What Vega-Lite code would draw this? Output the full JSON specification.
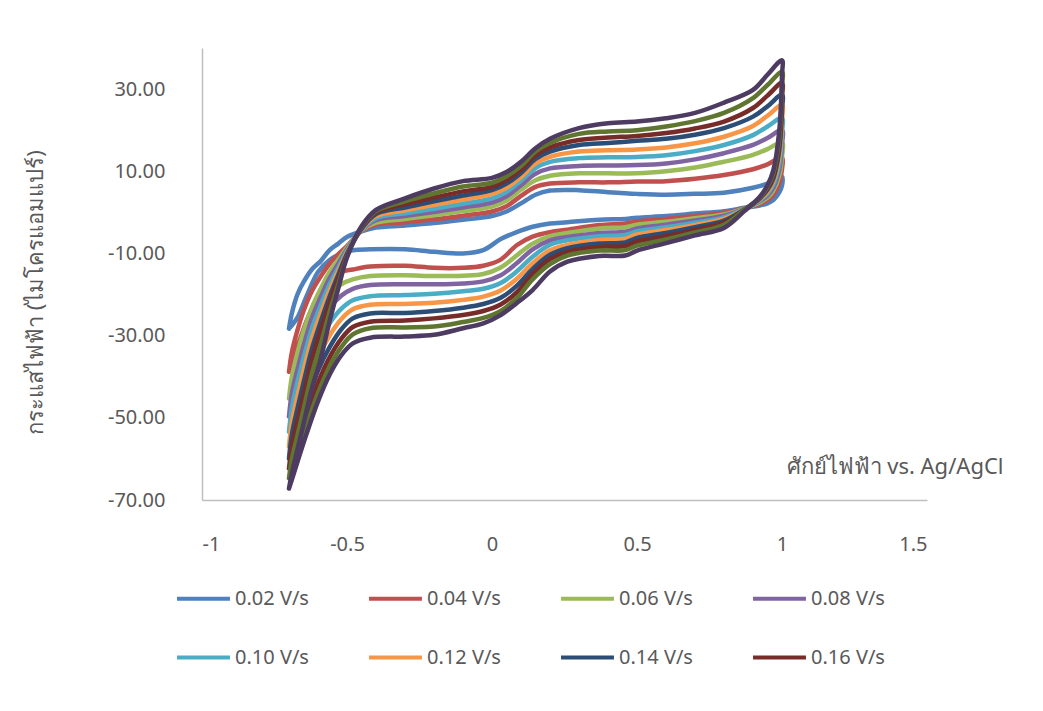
{
  "$schema": "https://vega.github.io/schema/vega-lite/v6.json",
  "width": 725,
  "height": 452,
  "autosize": {"type": "none"},
  "padding": {"left": 202, "top": 48, "right": 116, "bottom": 211},
  "background": "white",
  "config": {
    "view": {"stroke": null},
    "font": "Noto Sans",
    "locale": {"number": {"decimal": ".", "thousands": ",", "grouping": [3], "currency": ["$", ""], "minus": "-"}}
  },
  "datasets": {
    "cv": [
      {"rate":"0.02 V/s","E":-0.7,"I":-28.3},{"rate":"0.02 V/s","E":-0.69,"I":-24.5},{"rate":"0.02 V/s","E":-0.67,"I":-19.8},{"rate":"0.02 V/s","E":-0.65,"I":-17.0},{"rate":"0.02 V/s","E":-0.62,"I":-13.8},{"rate":"0.02 V/s","E":-0.59,"I":-11.8},{"rate":"0.02 V/s","E":-0.56,"I":-9.2},{"rate":"0.02 V/s","E":-0.53,"I":-7.6},{"rate":"0.02 V/s","E":-0.5,"I":-6.0},{"rate":"0.02 V/s","E":-0.45,"I":-4.6},{"rate":"0.02 V/s","E":-0.4,"I":-3.7},{"rate":"0.02 V/s","E":-0.3,"I":-3.2},{"rate":"0.02 V/s","E":-0.2,"I":-2.6},{"rate":"0.02 V/s","E":-0.1,"I":-1.8},{"rate":"0.02 V/s","E":0.0,"I":-0.9},{"rate":"0.02 V/s","E":0.05,"I":0.2},{"rate":"0.02 V/s","E":0.1,"I":2.2},{"rate":"0.02 V/s","E":0.15,"I":4.3},{"rate":"0.02 V/s","E":0.2,"I":5.3},{"rate":"0.02 V/s","E":0.3,"I":5.4},{"rate":"0.02 V/s","E":0.4,"I":4.9},{"rate":"0.02 V/s","E":0.5,"I":4.5},{"rate":"0.02 V/s","E":0.6,"I":4.3},{"rate":"0.02 V/s","E":0.7,"I":4.5},{"rate":"0.02 V/s","E":0.8,"I":4.8},{"rate":"0.02 V/s","E":0.9,"I":6.0},{"rate":"0.02 V/s","E":0.95,"I":7.0},{"rate":"0.02 V/s","E":1.0,"I":8.7},
      {"rate":"0.02 V/s","E":1.0,"I":6.5},{"rate":"0.02 V/s","E":0.99,"I":4.8},{"rate":"0.02 V/s","E":0.97,"I":3.0},{"rate":"0.02 V/s","E":0.95,"I":2.2},{"rate":"0.02 V/s","E":0.92,"I":1.6},{"rate":"0.02 V/s","E":0.87,"I":1.1},{"rate":"0.02 V/s","E":0.8,"I":0.3},{"rate":"0.02 V/s","E":0.7,"I":-0.3},{"rate":"0.02 V/s","E":0.6,"I":-0.9},{"rate":"0.02 V/s","E":0.5,"I":-1.3},{"rate":"0.02 V/s","E":0.46,"I":-1.6},{"rate":"0.02 V/s","E":0.37,"I":-1.8},{"rate":"0.02 V/s","E":0.26,"I":-2.4},{"rate":"0.02 V/s","E":0.2,"I":-2.7},{"rate":"0.02 V/s","E":0.14,"I":-3.5},{"rate":"0.02 V/s","E":0.085,"I":-4.8},{"rate":"0.02 V/s","E":0.03,"I":-6.5},{"rate":"0.02 V/s","E":-0.03,"I":-9.2},{"rate":"0.02 V/s","E":-0.1,"I":-10.0},{"rate":"0.02 V/s","E":-0.2,"I":-9.6},{"rate":"0.02 V/s","E":-0.3,"I":-9.0},{"rate":"0.02 V/s","E":-0.42,"I":-9.0},{"rate":"0.02 V/s","E":-0.48,"I":-9.2},{"rate":"0.02 V/s","E":-0.52,"I":-10.0},{"rate":"0.02 V/s","E":-0.56,"I":-11.6},{"rate":"0.02 V/s","E":-0.6,"I":-14.5},{"rate":"0.02 V/s","E":-0.64,"I":-20.5},{"rate":"0.02 V/s","E":-0.67,"I":-25.5},{"rate":"0.02 V/s","E":-0.69,"I":-27.5},{"rate":"0.02 V/s","E":-0.7,"I":-28.3},

      {"rate":"0.04 V/s","E":-0.7,"I":-38.8},{"rate":"0.04 V/s","E":-0.69,"I":-34.0},{"rate":"0.04 V/s","E":-0.67,"I":-28.5},{"rate":"0.04 V/s","E":-0.65,"I":-24.0},{"rate":"0.04 V/s","E":-0.62,"I":-19.0},{"rate":"0.04 V/s","E":-0.59,"I":-15.5},{"rate":"0.04 V/s","E":-0.56,"I":-12.5},{"rate":"0.04 V/s","E":-0.53,"I":-10.2},{"rate":"0.04 V/s","E":-0.5,"I":-8.2},{"rate":"0.04 V/s","E":-0.45,"I":-4.5},{"rate":"0.04 V/s","E":-0.4,"I":-3.0},{"rate":"0.04 V/s","E":-0.3,"I":-2.4},{"rate":"0.04 V/s","E":-0.2,"I":-1.7},{"rate":"0.04 V/s","E":-0.1,"I":-0.8},{"rate":"0.04 V/s","E":0.0,"I":0.2},{"rate":"0.04 V/s","E":0.05,"I":1.5},{"rate":"0.04 V/s","E":0.1,"I":4.0},{"rate":"0.04 V/s","E":0.15,"I":6.2},{"rate":"0.04 V/s","E":0.2,"I":7.0},{"rate":"0.04 V/s","E":0.3,"I":7.3},{"rate":"0.04 V/s","E":0.4,"I":7.3},{"rate":"0.04 V/s","E":0.5,"I":7.5},{"rate":"0.04 V/s","E":0.6,"I":7.6},{"rate":"0.04 V/s","E":0.7,"I":8.2},{"rate":"0.04 V/s","E":0.8,"I":9.1},{"rate":"0.04 V/s","E":0.9,"I":10.5},{"rate":"0.04 V/s","E":0.95,"I":11.7},{"rate":"0.04 V/s","E":1.0,"I":13.3},
      {"rate":"0.04 V/s","E":1.0,"I":10.5},{"rate":"0.04 V/s","E":0.99,"I":7.0},{"rate":"0.04 V/s","E":0.97,"I":4.3},{"rate":"0.04 V/s","E":0.95,"I":3.0},{"rate":"0.04 V/s","E":0.92,"I":2.0},{"rate":"0.04 V/s","E":0.87,"I":1.0},{"rate":"0.04 V/s","E":0.8,"I":-0.1},{"rate":"0.04 V/s","E":0.7,"I":-0.9},{"rate":"0.04 V/s","E":0.6,"I":-1.6},{"rate":"0.04 V/s","E":0.5,"I":-2.2},{"rate":"0.04 V/s","E":0.46,"I":-2.7},{"rate":"0.04 V/s","E":0.37,"I":-3.1},{"rate":"0.04 V/s","E":0.26,"I":-4.2},{"rate":"0.04 V/s","E":0.2,"I":-4.8},{"rate":"0.04 V/s","E":0.14,"I":-5.9},{"rate":"0.04 V/s","E":0.085,"I":-8.0},{"rate":"0.04 V/s","E":0.03,"I":-11.5},{"rate":"0.04 V/s","E":-0.03,"I":-13.0},{"rate":"0.04 V/s","E":-0.1,"I":-13.5},{"rate":"0.04 V/s","E":-0.2,"I":-13.5},{"rate":"0.04 V/s","E":-0.3,"I":-13.0},{"rate":"0.04 V/s","E":-0.42,"I":-13.2},{"rate":"0.04 V/s","E":-0.48,"I":-13.9},{"rate":"0.04 V/s","E":-0.52,"I":-14.5},{"rate":"0.04 V/s","E":-0.56,"I":-16.5},{"rate":"0.04 V/s","E":-0.6,"I":-20.5},{"rate":"0.04 V/s","E":-0.64,"I":-26.5},{"rate":"0.04 V/s","E":-0.67,"I":-32.5},{"rate":"0.04 V/s","E":-0.69,"I":-36.5},{"rate":"0.04 V/s","E":-0.7,"I":-38.8},

      {"rate":"0.06 V/s","E":-0.7,"I":-45.3},{"rate":"0.06 V/s","E":-0.69,"I":-40.0},{"rate":"0.06 V/s","E":-0.67,"I":-34.0},{"rate":"0.06 V/s","E":-0.65,"I":-29.0},{"rate":"0.06 V/s","E":-0.62,"I":-23.0},{"rate":"0.06 V/s","E":-0.59,"I":-18.5},{"rate":"0.06 V/s","E":-0.56,"I":-14.5},{"rate":"0.06 V/s","E":-0.53,"I":-11.5},{"rate":"0.06 V/s","E":-0.5,"I":-8.6},{"rate":"0.06 V/s","E":-0.45,"I":-4.4},{"rate":"0.06 V/s","E":-0.4,"I":-2.5},{"rate":"0.06 V/s","E":-0.3,"I":-1.6},{"rate":"0.06 V/s","E":-0.2,"I":-0.7},{"rate":"0.06 V/s","E":-0.1,"I":0.3},{"rate":"0.06 V/s","E":0.0,"I":1.4},{"rate":"0.06 V/s","E":0.05,"I":2.9},{"rate":"0.06 V/s","E":0.1,"I":5.5},{"rate":"0.06 V/s","E":0.15,"I":7.8},{"rate":"0.06 V/s","E":0.2,"I":8.9},{"rate":"0.06 V/s","E":0.3,"I":9.5},{"rate":"0.06 V/s","E":0.4,"I":9.5},{"rate":"0.06 V/s","E":0.5,"I":9.5},{"rate":"0.06 V/s","E":0.6,"I":10.0},{"rate":"0.06 V/s","E":0.7,"I":10.9},{"rate":"0.06 V/s","E":0.8,"I":12.3},{"rate":"0.06 V/s","E":0.9,"I":14.0},{"rate":"0.06 V/s","E":0.95,"I":15.4},{"rate":"0.06 V/s","E":1.0,"I":17.0},
      {"rate":"0.06 V/s","E":1.0,"I":13.5},{"rate":"0.06 V/s","E":0.99,"I":8.8},{"rate":"0.06 V/s","E":0.97,"I":5.3},{"rate":"0.06 V/s","E":0.95,"I":3.6},{"rate":"0.06 V/s","E":0.92,"I":2.3},{"rate":"0.06 V/s","E":0.87,"I":0.9},{"rate":"0.06 V/s","E":0.8,"I":-0.5},{"rate":"0.06 V/s","E":0.7,"I":-1.4},{"rate":"0.06 V/s","E":0.6,"I":-2.3},{"rate":"0.06 V/s","E":0.5,"I":-3.0},{"rate":"0.06 V/s","E":0.46,"I":-3.6},{"rate":"0.06 V/s","E":0.37,"I":-3.9},{"rate":"0.06 V/s","E":0.26,"I":-5.0},{"rate":"0.06 V/s","E":0.2,"I":-5.8},{"rate":"0.06 V/s","E":0.14,"I":-7.6},{"rate":"0.06 V/s","E":0.085,"I":-10.5},{"rate":"0.06 V/s","E":0.03,"I":-13.4},{"rate":"0.06 V/s","E":-0.03,"I":-15.0},{"rate":"0.06 V/s","E":-0.1,"I":-15.4},{"rate":"0.06 V/s","E":-0.2,"I":-15.5},{"rate":"0.06 V/s","E":-0.3,"I":-15.3},{"rate":"0.06 V/s","E":-0.42,"I":-15.5},{"rate":"0.06 V/s","E":-0.48,"I":-16.3},{"rate":"0.06 V/s","E":-0.52,"I":-17.5},{"rate":"0.06 V/s","E":-0.56,"I":-20.0},{"rate":"0.06 V/s","E":-0.6,"I":-24.5},{"rate":"0.06 V/s","E":-0.64,"I":-31.5},{"rate":"0.06 V/s","E":-0.67,"I":-38.5},{"rate":"0.06 V/s","E":-0.69,"I":-43.0},{"rate":"0.06 V/s","E":-0.7,"I":-45.3},

      {"rate":"0.08 V/s","E":-0.7,"I":-49.7},{"rate":"0.08 V/s","E":-0.69,"I":-44.0},{"rate":"0.08 V/s","E":-0.67,"I":-38.0},{"rate":"0.08 V/s","E":-0.65,"I":-32.5},{"rate":"0.08 V/s","E":-0.62,"I":-25.5},{"rate":"0.08 V/s","E":-0.59,"I":-20.5},{"rate":"0.08 V/s","E":-0.56,"I":-16.0},{"rate":"0.08 V/s","E":-0.53,"I":-12.5},{"rate":"0.08 V/s","E":-0.5,"I":-9.0},{"rate":"0.08 V/s","E":-0.45,"I":-4.3},{"rate":"0.08 V/s","E":-0.4,"I":-1.9},{"rate":"0.08 V/s","E":-0.3,"I":-0.9},{"rate":"0.08 V/s","E":-0.2,"I":0.1},{"rate":"0.08 V/s","E":-0.1,"I":1.2},{"rate":"0.08 V/s","E":0.0,"I":2.4},{"rate":"0.08 V/s","E":0.05,"I":3.9},{"rate":"0.08 V/s","E":0.1,"I":6.6},{"rate":"0.08 V/s","E":0.15,"I":9.4},{"rate":"0.08 V/s","E":0.2,"I":10.7},{"rate":"0.08 V/s","E":0.3,"I":11.3},{"rate":"0.08 V/s","E":0.4,"I":11.4},{"rate":"0.08 V/s","E":0.5,"I":11.5},{"rate":"0.08 V/s","E":0.6,"I":11.9},{"rate":"0.08 V/s","E":0.7,"I":12.9},{"rate":"0.08 V/s","E":0.8,"I":14.4},{"rate":"0.08 V/s","E":0.9,"I":16.4},{"rate":"0.08 V/s","E":0.95,"I":18.1},{"rate":"0.08 V/s","E":1.0,"I":20.0},
      {"rate":"0.08 V/s","E":1.0,"I":16.5},{"rate":"0.08 V/s","E":0.99,"I":10.2},{"rate":"0.08 V/s","E":0.97,"I":6.0},{"rate":"0.08 V/s","E":0.95,"I":4.1},{"rate":"0.08 V/s","E":0.92,"I":2.6},{"rate":"0.08 V/s","E":0.87,"I":0.8},{"rate":"0.08 V/s","E":0.8,"I":-0.8},{"rate":"0.08 V/s","E":0.7,"I":-2.0},{"rate":"0.08 V/s","E":0.6,"I":-3.0},{"rate":"0.08 V/s","E":0.5,"I":-3.9},{"rate":"0.08 V/s","E":0.46,"I":-4.7},{"rate":"0.08 V/s","E":0.37,"I":-5.0},{"rate":"0.08 V/s","E":0.26,"I":-6.0},{"rate":"0.08 V/s","E":0.2,"I":-6.8},{"rate":"0.08 V/s","E":0.14,"I":-9.0},{"rate":"0.08 V/s","E":0.085,"I":-12.4},{"rate":"0.08 V/s","E":0.03,"I":-15.3},{"rate":"0.08 V/s","E":-0.03,"I":-16.8},{"rate":"0.08 V/s","E":-0.1,"I":-17.3},{"rate":"0.08 V/s","E":-0.2,"I":-17.5},{"rate":"0.08 V/s","E":-0.3,"I":-17.5},{"rate":"0.08 V/s","E":-0.42,"I":-17.7},{"rate":"0.08 V/s","E":-0.48,"I":-18.6},{"rate":"0.08 V/s","E":-0.52,"I":-20.3},{"rate":"0.08 V/s","E":-0.56,"I":-23.3},{"rate":"0.08 V/s","E":-0.6,"I":-28.0},{"rate":"0.08 V/s","E":-0.64,"I":-35.5},{"rate":"0.08 V/s","E":-0.67,"I":-42.5},{"rate":"0.08 V/s","E":-0.69,"I":-47.5},{"rate":"0.08 V/s","E":-0.7,"I":-49.7},

      {"rate":"0.10 V/s","E":-0.7,"I":-53.4},{"rate":"0.10 V/s","E":-0.69,"I":-47.5},{"rate":"0.10 V/s","E":-0.67,"I":-41.0},{"rate":"0.10 V/s","E":-0.65,"I":-35.5},{"rate":"0.10 V/s","E":-0.62,"I":-28.0},{"rate":"0.10 V/s","E":-0.59,"I":-22.5},{"rate":"0.10 V/s","E":-0.56,"I":-17.5},{"rate":"0.10 V/s","E":-0.53,"I":-13.5},{"rate":"0.10 V/s","E":-0.5,"I":-9.4},{"rate":"0.10 V/s","E":-0.45,"I":-4.2},{"rate":"0.10 V/s","E":-0.4,"I":-1.4},{"rate":"0.10 V/s","E":-0.3,"I":-0.2},{"rate":"0.10 V/s","E":-0.2,"I":0.9},{"rate":"0.10 V/s","E":-0.1,"I":2.1},{"rate":"0.10 V/s","E":0.0,"I":3.4},{"rate":"0.10 V/s","E":0.05,"I":5.0},{"rate":"0.10 V/s","E":0.1,"I":7.7},{"rate":"0.10 V/s","E":0.15,"I":10.8},{"rate":"0.10 V/s","E":0.2,"I":12.3},{"rate":"0.10 V/s","E":0.3,"I":13.2},{"rate":"0.10 V/s","E":0.4,"I":13.4},{"rate":"0.10 V/s","E":0.5,"I":13.5},{"rate":"0.10 V/s","E":0.6,"I":13.9},{"rate":"0.10 V/s","E":0.7,"I":14.9},{"rate":"0.10 V/s","E":0.8,"I":16.4},{"rate":"0.10 V/s","E":0.9,"I":18.8},{"rate":"0.10 V/s","E":0.95,"I":20.9},{"rate":"0.10 V/s","E":1.0,"I":23.0},
      {"rate":"0.10 V/s","E":1.0,"I":19.5},{"rate":"0.10 V/s","E":0.99,"I":11.8},{"rate":"0.10 V/s","E":0.97,"I":6.8},{"rate":"0.10 V/s","E":0.95,"I":4.6},{"rate":"0.10 V/s","E":0.92,"I":2.8},{"rate":"0.10 V/s","E":0.87,"I":0.8},{"rate":"0.10 V/s","E":0.8,"I":-1.2},{"rate":"0.10 V/s","E":0.7,"I":-2.5},{"rate":"0.10 V/s","E":0.6,"I":-3.6},{"rate":"0.10 V/s","E":0.5,"I":-4.6},{"rate":"0.10 V/s","E":0.46,"I":-5.5},{"rate":"0.10 V/s","E":0.37,"I":-5.8},{"rate":"0.10 V/s","E":0.26,"I":-6.8},{"rate":"0.10 V/s","E":0.2,"I":-7.9},{"rate":"0.10 V/s","E":0.14,"I":-10.8},{"rate":"0.10 V/s","E":0.085,"I":-14.4},{"rate":"0.10 V/s","E":0.03,"I":-17.2},{"rate":"0.10 V/s","E":-0.03,"I":-18.6},{"rate":"0.10 V/s","E":-0.1,"I":-19.2},{"rate":"0.10 V/s","E":-0.2,"I":-19.8},{"rate":"0.10 V/s","E":-0.3,"I":-20.1},{"rate":"0.10 V/s","E":-0.42,"I":-20.4},{"rate":"0.10 V/s","E":-0.48,"I":-21.4},{"rate":"0.10 V/s","E":-0.52,"I":-23.5},{"rate":"0.10 V/s","E":-0.56,"I":-27.0},{"rate":"0.10 V/s","E":-0.6,"I":-32.0},{"rate":"0.10 V/s","E":-0.64,"I":-39.5},{"rate":"0.10 V/s","E":-0.67,"I":-46.5},{"rate":"0.10 V/s","E":-0.69,"I":-51.0},{"rate":"0.10 V/s","E":-0.7,"I":-53.4},

      {"rate":"0.12 V/s","E":-0.7,"I":-57.0},{"rate":"0.12 V/s","E":-0.69,"I":-51.0},{"rate":"0.12 V/s","E":-0.67,"I":-44.5},{"rate":"0.12 V/s","E":-0.65,"I":-38.5},{"rate":"0.12 V/s","E":-0.62,"I":-30.5},{"rate":"0.12 V/s","E":-0.59,"I":-24.5},{"rate":"0.12 V/s","E":-0.56,"I":-19.0},{"rate":"0.12 V/s","E":-0.53,"I":-14.3},{"rate":"0.12 V/s","E":-0.5,"I":-9.8},{"rate":"0.12 V/s","E":-0.45,"I":-4.1},{"rate":"0.12 V/s","E":-0.4,"I":-0.9},{"rate":"0.12 V/s","E":-0.3,"I":0.5},{"rate":"0.12 V/s","E":-0.2,"I":1.8},{"rate":"0.12 V/s","E":-0.1,"I":3.1},{"rate":"0.12 V/s","E":0.0,"I":4.5},{"rate":"0.12 V/s","E":0.05,"I":6.0},{"rate":"0.12 V/s","E":0.1,"I":8.6},{"rate":"0.12 V/s","E":0.15,"I":11.9},{"rate":"0.12 V/s","E":0.2,"I":13.5},{"rate":"0.12 V/s","E":0.3,"I":14.8},{"rate":"0.12 V/s","E":0.4,"I":15.1},{"rate":"0.12 V/s","E":0.5,"I":15.3},{"rate":"0.12 V/s","E":0.6,"I":15.8},{"rate":"0.12 V/s","E":0.7,"I":16.8},{"rate":"0.12 V/s","E":0.8,"I":18.4},{"rate":"0.12 V/s","E":0.9,"I":21.0},{"rate":"0.12 V/s","E":0.95,"I":23.5},{"rate":"0.12 V/s","E":1.0,"I":26.1},
      {"rate":"0.12 V/s","E":1.0,"I":22.5},{"rate":"0.12 V/s","E":0.99,"I":13.3},{"rate":"0.12 V/s","E":0.97,"I":7.5},{"rate":"0.12 V/s","E":0.95,"I":5.0},{"rate":"0.12 V/s","E":0.92,"I":3.0},{"rate":"0.12 V/s","E":0.87,"I":0.7},{"rate":"0.12 V/s","E":0.8,"I":-1.6},{"rate":"0.12 V/s","E":0.7,"I":-3.1},{"rate":"0.12 V/s","E":0.6,"I":-4.3},{"rate":"0.12 V/s","E":0.5,"I":-5.4},{"rate":"0.12 V/s","E":0.46,"I":-6.4},{"rate":"0.12 V/s","E":0.37,"I":-6.7},{"rate":"0.12 V/s","E":0.26,"I":-7.9},{"rate":"0.12 V/s","E":0.2,"I":-9.2},{"rate":"0.12 V/s","E":0.14,"I":-12.4},{"rate":"0.12 V/s","E":0.085,"I":-16.2},{"rate":"0.12 V/s","E":0.03,"I":-19.0},{"rate":"0.12 V/s","E":-0.03,"I":-20.5},{"rate":"0.12 V/s","E":-0.1,"I":-21.3},{"rate":"0.12 V/s","E":-0.2,"I":-22.0},{"rate":"0.12 V/s","E":-0.3,"I":-22.3},{"rate":"0.12 V/s","E":-0.42,"I":-22.5},{"rate":"0.12 V/s","E":-0.48,"I":-23.6},{"rate":"0.12 V/s","E":-0.52,"I":-26.0},{"rate":"0.12 V/s","E":-0.56,"I":-30.0},{"rate":"0.12 V/s","E":-0.6,"I":-35.5},{"rate":"0.12 V/s","E":-0.64,"I":-43.0},{"rate":"0.12 V/s","E":-0.67,"I":-50.0},{"rate":"0.12 V/s","E":-0.69,"I":-54.5},{"rate":"0.12 V/s","E":-0.7,"I":-57.0},

      {"rate":"0.14 V/s","E":-0.7,"I":-59.9},{"rate":"0.14 V/s","E":-0.69,"I":-54.0},{"rate":"0.14 V/s","E":-0.67,"I":-47.5},{"rate":"0.14 V/s","E":-0.65,"I":-41.5},{"rate":"0.14 V/s","E":-0.62,"I":-33.0},{"rate":"0.14 V/s","E":-0.59,"I":-26.5},{"rate":"0.14 V/s","E":-0.56,"I":-20.5},{"rate":"0.14 V/s","E":-0.53,"I":-15.2},{"rate":"0.14 V/s","E":-0.5,"I":-10.1},{"rate":"0.14 V/s","E":-0.45,"I":-4.0},{"rate":"0.14 V/s","E":-0.4,"I":-0.4},{"rate":"0.14 V/s","E":-0.3,"I":1.2},{"rate":"0.14 V/s","E":-0.2,"I":2.7},{"rate":"0.14 V/s","E":-0.1,"I":4.1},{"rate":"0.14 V/s","E":0.0,"I":5.4},{"rate":"0.14 V/s","E":0.05,"I":7.0},{"rate":"0.14 V/s","E":0.1,"I":9.6},{"rate":"0.14 V/s","E":0.15,"I":13.0},{"rate":"0.14 V/s","E":0.2,"I":14.8},{"rate":"0.14 V/s","E":0.3,"I":16.4},{"rate":"0.14 V/s","E":0.4,"I":16.9},{"rate":"0.14 V/s","E":0.5,"I":17.4},{"rate":"0.14 V/s","E":0.6,"I":17.9},{"rate":"0.14 V/s","E":0.7,"I":18.9},{"rate":"0.14 V/s","E":0.8,"I":20.5},{"rate":"0.14 V/s","E":0.9,"I":23.3},{"rate":"0.14 V/s","E":0.95,"I":25.8},{"rate":"0.14 V/s","E":1.0,"I":28.6},
      {"rate":"0.14 V/s","E":1.0,"I":25.0},{"rate":"0.14 V/s","E":0.99,"I":14.8},{"rate":"0.14 V/s","E":0.97,"I":8.2},{"rate":"0.14 V/s","E":0.95,"I":5.5},{"rate":"0.14 V/s","E":0.92,"I":3.2},{"rate":"0.14 V/s","E":0.87,"I":0.7},{"rate":"0.14 V/s","E":0.8,"I":-2.0},{"rate":"0.14 V/s","E":0.7,"I":-3.6},{"rate":"0.14 V/s","E":0.6,"I":-5.0},{"rate":"0.14 V/s","E":0.5,"I":-6.2},{"rate":"0.14 V/s","E":0.46,"I":-7.3},{"rate":"0.14 V/s","E":0.37,"I":-7.6},{"rate":"0.14 V/s","E":0.26,"I":-8.7},{"rate":"0.14 V/s","E":0.2,"I":-10.3},{"rate":"0.14 V/s","E":0.14,"I":-13.8},{"rate":"0.14 V/s","E":0.085,"I":-17.9},{"rate":"0.14 V/s","E":0.03,"I":-20.8},{"rate":"0.14 V/s","E":-0.03,"I":-22.3},{"rate":"0.14 V/s","E":-0.1,"I":-23.2},{"rate":"0.14 V/s","E":-0.2,"I":-24.0},{"rate":"0.14 V/s","E":-0.3,"I":-24.5},{"rate":"0.14 V/s","E":-0.42,"I":-24.6},{"rate":"0.14 V/s","E":-0.48,"I":-25.8},{"rate":"0.14 V/s","E":-0.52,"I":-28.5},{"rate":"0.14 V/s","E":-0.56,"I":-32.8},{"rate":"0.14 V/s","E":-0.6,"I":-38.5},{"rate":"0.14 V/s","E":-0.64,"I":-46.5},{"rate":"0.14 V/s","E":-0.67,"I":-53.0},{"rate":"0.14 V/s","E":-0.69,"I":-57.5},{"rate":"0.14 V/s","E":-0.7,"I":-59.9},

      {"rate":"0.16 V/s","E":-0.7,"I":-62.3},{"rate":"0.16 V/s","E":-0.69,"I":-57.0},{"rate":"0.16 V/s","E":-0.67,"I":-50.5},{"rate":"0.16 V/s","E":-0.65,"I":-44.5},{"rate":"0.16 V/s","E":-0.62,"I":-35.5},{"rate":"0.16 V/s","E":-0.59,"I":-28.5},{"rate":"0.16 V/s","E":-0.56,"I":-22.0},{"rate":"0.16 V/s","E":-0.53,"I":-16.2},{"rate":"0.16 V/s","E":-0.5,"I":-10.4},{"rate":"0.16 V/s","E":-0.45,"I":-3.8},{"rate":"0.16 V/s","E":-0.4,"I":0.0},{"rate":"0.16 V/s","E":-0.3,"I":2.0},{"rate":"0.16 V/s","E":-0.2,"I":3.6},{"rate":"0.16 V/s","E":-0.1,"I":5.1},{"rate":"0.16 V/s","E":0.0,"I":6.2},{"rate":"0.16 V/s","E":0.05,"I":7.9},{"rate":"0.16 V/s","E":0.1,"I":10.4},{"rate":"0.16 V/s","E":0.15,"I":13.9},{"rate":"0.16 V/s","E":0.2,"I":15.8},{"rate":"0.16 V/s","E":0.3,"I":17.6},{"rate":"0.16 V/s","E":0.4,"I":18.2},{"rate":"0.16 V/s","E":0.5,"I":18.6},{"rate":"0.16 V/s","E":0.6,"I":19.3},{"rate":"0.16 V/s","E":0.7,"I":20.4},{"rate":"0.16 V/s","E":0.8,"I":22.1},{"rate":"0.16 V/s","E":0.9,"I":25.4},{"rate":"0.16 V/s","E":0.95,"I":28.4},{"rate":"0.16 V/s","E":1.0,"I":31.5},
      {"rate":"0.16 V/s","E":1.0,"I":28.0},{"rate":"0.16 V/s","E":0.99,"I":16.2},{"rate":"0.16 V/s","E":0.97,"I":8.8},{"rate":"0.16 V/s","E":0.95,"I":5.9},{"rate":"0.16 V/s","E":0.92,"I":3.3},{"rate":"0.16 V/s","E":0.87,"I":0.6},{"rate":"0.16 V/s","E":0.8,"I":-2.5},{"rate":"0.16 V/s","E":0.7,"I":-4.3},{"rate":"0.16 V/s","E":0.6,"I":-5.8},{"rate":"0.16 V/s","E":0.5,"I":-7.1},{"rate":"0.16 V/s","E":0.46,"I":-8.2},{"rate":"0.16 V/s","E":0.37,"I":-8.4},{"rate":"0.16 V/s","E":0.26,"I":-9.6},{"rate":"0.16 V/s","E":0.2,"I":-11.4},{"rate":"0.16 V/s","E":0.14,"I":-15.0},{"rate":"0.16 V/s","E":0.085,"I":-19.5},{"rate":"0.16 V/s","E":0.03,"I":-22.4},{"rate":"0.16 V/s","E":-0.03,"I":-24.0},{"rate":"0.16 V/s","E":-0.1,"I":-25.0},{"rate":"0.16 V/s","E":-0.2,"I":-25.8},{"rate":"0.16 V/s","E":-0.3,"I":-26.3},{"rate":"0.16 V/s","E":-0.42,"I":-26.6},{"rate":"0.16 V/s","E":-0.48,"I":-27.9},{"rate":"0.16 V/s","E":-0.52,"I":-30.8},{"rate":"0.16 V/s","E":-0.56,"I":-35.3},{"rate":"0.16 V/s","E":-0.6,"I":-41.5},{"rate":"0.16 V/s","E":-0.64,"I":-49.5},{"rate":"0.16 V/s","E":-0.67,"I":-56.0},{"rate":"0.16 V/s","E":-0.69,"I":-60.0},{"rate":"0.16 V/s","E":-0.7,"I":-62.3},

      {"rate":"0.18 V/s","E":-0.7,"I":-64.7},{"rate":"0.18 V/s","E":-0.69,"I":-60.0},{"rate":"0.18 V/s","E":-0.67,"I":-54.0},{"rate":"0.18 V/s","E":-0.65,"I":-48.0},{"rate":"0.18 V/s","E":-0.62,"I":-39.0},{"rate":"0.18 V/s","E":-0.59,"I":-32.0},{"rate":"0.18 V/s","E":-0.56,"I":-24.2},{"rate":"0.18 V/s","E":-0.53,"I":-17.5},{"rate":"0.18 V/s","E":-0.5,"I":-10.7},{"rate":"0.18 V/s","E":-0.45,"I":-3.6},{"rate":"0.18 V/s","E":-0.4,"I":0.3},{"rate":"0.18 V/s","E":-0.3,"I":2.7},{"rate":"0.18 V/s","E":-0.2,"I":4.6},{"rate":"0.18 V/s","E":-0.1,"I":6.3},{"rate":"0.18 V/s","E":0.0,"I":7.2},{"rate":"0.18 V/s","E":0.05,"I":8.8},{"rate":"0.18 V/s","E":0.1,"I":11.3},{"rate":"0.18 V/s","E":0.15,"I":14.8},{"rate":"0.18 V/s","E":0.2,"I":16.9},{"rate":"0.18 V/s","E":0.3,"I":19.1},{"rate":"0.18 V/s","E":0.4,"I":19.7},{"rate":"0.18 V/s","E":0.5,"I":20.0},{"rate":"0.18 V/s","E":0.6,"I":20.9},{"rate":"0.18 V/s","E":0.7,"I":22.2},{"rate":"0.18 V/s","E":0.8,"I":24.2},{"rate":"0.18 V/s","E":0.9,"I":27.8},{"rate":"0.18 V/s","E":0.95,"I":31.0},{"rate":"0.18 V/s","E":1.0,"I":34.2},
      {"rate":"0.18 V/s","E":1.0,"I":30.5},{"rate":"0.18 V/s","E":0.99,"I":17.8},{"rate":"0.18 V/s","E":0.97,"I":9.5},{"rate":"0.18 V/s","E":0.95,"I":6.2},{"rate":"0.18 V/s","E":0.92,"I":3.4},{"rate":"0.18 V/s","E":0.87,"I":0.6},{"rate":"0.18 V/s","E":0.8,"I":-3.0},{"rate":"0.18 V/s","E":0.7,"I":-4.9},{"rate":"0.18 V/s","E":0.6,"I":-6.6},{"rate":"0.18 V/s","E":0.5,"I":-8.1},{"rate":"0.18 V/s","E":0.46,"I":-9.2},{"rate":"0.18 V/s","E":0.37,"I":-9.3},{"rate":"0.18 V/s","E":0.26,"I":-10.5},{"rate":"0.18 V/s","E":0.2,"I":-12.6},{"rate":"0.18 V/s","E":0.14,"I":-16.3},{"rate":"0.18 V/s","E":0.085,"I":-20.9},{"rate":"0.18 V/s","E":0.03,"I":-24.0},{"rate":"0.18 V/s","E":-0.03,"I":-25.7},{"rate":"0.18 V/s","E":-0.1,"I":-26.7},{"rate":"0.18 V/s","E":-0.2,"I":-27.8},{"rate":"0.18 V/s","E":-0.3,"I":-28.0},{"rate":"0.18 V/s","E":-0.42,"I":-28.2},{"rate":"0.18 V/s","E":-0.48,"I":-29.7},{"rate":"0.18 V/s","E":-0.52,"I":-32.8},{"rate":"0.18 V/s","E":-0.56,"I":-37.5},{"rate":"0.18 V/s","E":-0.6,"I":-44.0},{"rate":"0.18 V/s","E":-0.64,"I":-52.0},{"rate":"0.18 V/s","E":-0.67,"I":-58.5},{"rate":"0.18 V/s","E":-0.69,"I":-62.5},{"rate":"0.18 V/s","E":-0.7,"I":-64.7},

      {"rate":"0.20 V/s","E":-0.7,"I":-67.2},{"rate":"0.20 V/s","E":-0.69,"I":-63.5},{"rate":"0.20 V/s","E":-0.67,"I":-57.5},{"rate":"0.20 V/s","E":-0.65,"I":-51.5},{"rate":"0.20 V/s","E":-0.62,"I":-42.6},{"rate":"0.20 V/s","E":-0.59,"I":-35.4},{"rate":"0.20 V/s","E":-0.56,"I":-26.5},{"rate":"0.20 V/s","E":-0.53,"I":-18.5},{"rate":"0.20 V/s","E":-0.5,"I":-11.0},{"rate":"0.20 V/s","E":-0.45,"I":-3.4},{"rate":"0.20 V/s","E":-0.4,"I":0.6},{"rate":"0.20 V/s","E":-0.3,"I":3.4},{"rate":"0.20 V/s","E":-0.2,"I":5.8},{"rate":"0.20 V/s","E":-0.1,"I":7.6},{"rate":"0.20 V/s","E":0.0,"I":8.4},{"rate":"0.20 V/s","E":0.05,"I":9.8},{"rate":"0.20 V/s","E":0.1,"I":12.3},{"rate":"0.20 V/s","E":0.15,"I":15.6},{"rate":"0.20 V/s","E":0.2,"I":17.9},{"rate":"0.20 V/s","E":0.3,"I":20.5},{"rate":"0.20 V/s","E":0.4,"I":21.7},{"rate":"0.20 V/s","E":0.5,"I":22.1},{"rate":"0.20 V/s","E":0.6,"I":22.9},{"rate":"0.20 V/s","E":0.7,"I":24.2},{"rate":"0.20 V/s","E":0.8,"I":26.7},{"rate":"0.20 V/s","E":0.9,"I":29.8},{"rate":"0.20 V/s","E":0.95,"I":33.5},{"rate":"0.20 V/s","E":1.0,"I":37.0},
      {"rate":"0.20 V/s","E":1.0,"I":33.5},{"rate":"0.20 V/s","E":0.99,"I":19.5},{"rate":"0.20 V/s","E":0.97,"I":10.2},{"rate":"0.20 V/s","E":0.95,"I":6.6},{"rate":"0.20 V/s","E":0.92,"I":3.5},{"rate":"0.20 V/s","E":0.87,"I":0.3},{"rate":"0.20 V/s","E":0.8,"I":-3.8},{"rate":"0.20 V/s","E":0.7,"I":-5.6},{"rate":"0.20 V/s","E":0.6,"I":-7.5},{"rate":"0.20 V/s","E":0.5,"I":-9.3},{"rate":"0.20 V/s","E":0.46,"I":-10.5},{"rate":"0.20 V/s","E":0.37,"I":-10.6},{"rate":"0.20 V/s","E":0.26,"I":-12.0},{"rate":"0.20 V/s","E":0.2,"I":-14.4},{"rate":"0.20 V/s","E":0.14,"I":-18.9},{"rate":"0.20 V/s","E":0.085,"I":-22.1},{"rate":"0.20 V/s","E":0.03,"I":-25.0},{"rate":"0.20 V/s","E":-0.03,"I":-27.0},{"rate":"0.20 V/s","E":-0.1,"I":-28.2},{"rate":"0.20 V/s","E":-0.2,"I":-29.8},{"rate":"0.20 V/s","E":-0.3,"I":-30.2},{"rate":"0.20 V/s","E":-0.42,"I":-30.5},{"rate":"0.20 V/s","E":-0.48,"I":-31.9},{"rate":"0.20 V/s","E":-0.52,"I":-34.8},{"rate":"0.20 V/s","E":-0.56,"I":-39.5},{"rate":"0.20 V/s","E":-0.6,"I":-46.0},{"rate":"0.20 V/s","E":-0.64,"I":-54.0},{"rate":"0.20 V/s","E":-0.67,"I":-60.5},{"rate":"0.20 V/s","E":-0.69,"I":-65.0},{"rate":"0.20 V/s","E":-0.7,"I":-67.2}
    ]
  },
  "data": {"name": "cv"},
  "mark": {"type": "line", "strokeWidth": 4.5, "strokeJoin": "round", "strokeCap": "round", "interpolate": "catmull-rom"},
  "encoding": {
    "x": {
      "field": "E", "type": "quantitative",
      "scale": {"domain": [-1, 1.5], "nice": false, "zero": false},
      "axis": {
        "values": [-1, -0.5, 0, 0.5, 1, 1.5],
        "format": "~g",
        "grid": false, "ticks": false,
        "domainColor": "#BFBFBF", "domainWidth": 1.5,
        "labelFontSize": 20, "labelColor": "#595959", "labelPadding": 34,
        "labelFont": "Noto Sans",
        "title": "ศักย์ไฟฟ้า vs. Ag/AgCl",
        "titleFontSize": 22, "titleFontWeight": "normal", "titleColor": "#595959",
        "titleAlign": "right", "titleAnchor": null, "titleBaseline": "middle",
        "titleX": 801, "titleY": -34
      }
    },
    "y": {
      "field": "I", "type": "quantitative",
      "scale": {"domain": [-70, 40], "nice": false, "zero": false},
      "axis": {
        "values": [-70, -50, -30, -10, 10, 30],
        "format": ".2f",
        "grid": false, "ticks": false,
        "domainColor": "#BFBFBF", "domainWidth": 1.5,
        "labelFontSize": 20, "labelColor": "#595959", "labelPadding": 37,
        "labelFont": "Noto Sans",
        "title": "กระแสไฟฟ้า (ไมโครแอมแปร์)",
        "titleFontSize": 22, "titleFontWeight": "normal", "titleColor": "#595959",
        "titleAlign": "center", "titleBaseline": "middle", "titleAngle": -90,
        "titleX": -167, "titleY": 244
      }
    },
    "color": {
      "field": "rate", "type": "nominal",
      "scale": {
        "domain": ["0.02 V/s","0.04 V/s","0.06 V/s","0.08 V/s","0.10 V/s","0.12 V/s","0.14 V/s","0.16 V/s","0.18 V/s","0.20 V/s"],
        "range": ["#4F81BD","#C0504D","#9BBB59","#8064A2","#4BACC6","#F79646","#2C4D75","#772C2A","#5F7530","#4D3B62"]
      },
      "legend": {
        "values": ["0.02 V/s","0.04 V/s","0.06 V/s","0.08 V/s","0.10 V/s","0.12 V/s","0.14 V/s","0.16 V/s"],
        "title": null,
        "orient": "none", "legendX": -27, "legendY": 522,
        "direction": "horizontal", "columns": 4,
        "symbolType": "stroke", "symbolSize": 2800, "symbolStrokeWidth": 4,
        "labelFontSize": 20, "labelColor": "#595959", "labelFont": "Noto Sans",
        "labelOffset": 3, "columnPadding": 52, "rowPadding": 20,
        "labelLimit": 200
      }
    },
    "order": {"value": null}
  }
}
